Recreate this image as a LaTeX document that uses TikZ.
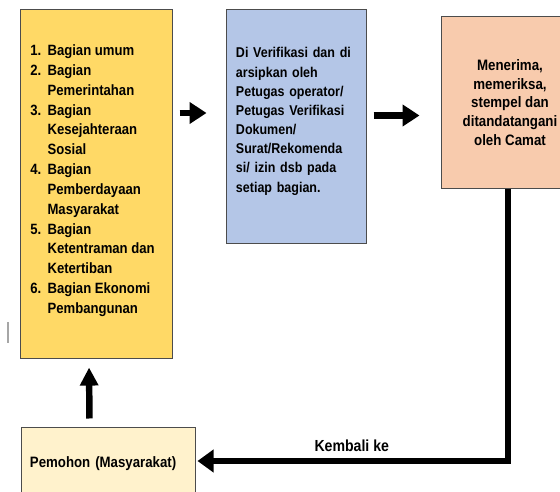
\documentclass[tikz,border=0pt]{standalone}
\usepackage{fontspec}
\setmainfont{Liberation Sans}[FakeStretch=0.88]
\usetikzlibrary{positioning,arrows.meta,calc}
\definecolor{bagianyellow}{HTML}{FFD966}
\definecolor{verifblue}{HTML}{B4C6E7}
\definecolor{camatpeach}{HTML}{F8CBAD}
\definecolor{pemohonyellow}{HTML}{FFF2CC}
\tikzset{
  flowarrow/.style={-{Triangle[length=4.2mm,width=5.2mm]}, line width=4.6pt},
  stepbox/.style={draw=black!70, line width=0.7pt, inner sep=0pt},
  bagiannode/.style={stepbox, fill=bagianyellow, minimum width=3.775cm, minimum height=8.7cm, font=\bfseries\fontsize{10.6}{14.1}\selectfont},
  verifnode/.style={stepbox, fill=verifblue, inner xsep=2.25mm, text width=3.025cm, minimum height=5.825cm, text depth=105pt, align=left, font=\bfseries\fontsize{10.1}{13.65}\selectfont},
  camatnode/.style={stepbox, fill=camatpeach, minimum width=3.4cm, minimum height=4.275cm, align=center, font=\bfseries\fontsize{10.75}{13.3}\selectfont},
  pemohonnode/.style={stepbox, fill=pemohonyellow, inner xsep=2mm, text width=3.925cm, minimum height=1.8cm, align=left, font=\bfseries\fontsize{10.7}{13}\selectfont},
  relabel/.style={font=\bfseries\fontsize{11.4}{13}\selectfont}
}
\begin{document}
\begin{tikzpicture}[x=0.025cm, y=-0.025cm]
  \useasboundingbox (0,0) rectangle (560,492);
  \node[bagiannode] (bagian) at (96.5,184) {%
    \begin{tabular}{@{}l@{\hspace{4.5pt}}l@{\hspace{5.7pt}}}
      1. & Bagian umum\\
      2. & Bagian\\
         & Pemerintahan\\
      3. & Bagian\\
         & Kesejahteraan\\
         & Sosial\\
      4. & Bagian\\
         & Pemberdayaan\\
         & Masyarakat\\
      5. & Bagian\\
         & Ketentraman dan\\
         & Ketertiban\\
      6. & Bagian Ekonomi\\
         & Pembangunan\\[5pt]
    \end{tabular}};
  \node[verifnode] (verif) at (296.5,126.5) {Di Verifikasi dan di\\arsipkan oleh\\Petugas operator/\\Petugas Verifikasi\\Dokumen/\\Surat/Rekomenda\\si/ izin dsb pada\\setiap bagian.};
  \node[camatnode] (camat) at (510,102.5) {Menerima,\\memeriksa,\\stempel dan\\ditandatangani\\oleh Camat};
  \node[pemohonnode] (pemohon) at (108.5,464) {Pemohon (Masyarakat)};
  \draw[gray!70, line width=1.2pt] (8,322) -- (8,343);
  \draw[flowarrow, shorten <=1.75mm, shorten >=5mm] (bagian.east |- 0,113) -- (verif.west |- 0,113);
  \draw[flowarrow, shorten <=1.75mm, shorten >=5.5mm] (verif.east |- 0,115.5) -- (camat.west |- 0,115.5);
  \draw[flowarrow, -{Triangle[length=4mm,width=5.5mm]}, shorten >=0.5mm] ([xshift=-0.5mm]camat.south) |- ([yshift=0.75mm]pemohon.east)
    node[relabel, pos=0.75, above=1.2pt] {Kembali ke};
  \draw[flowarrow, -{Triangle[length=4.5mm,width=4.4mm]}, shorten <=2.25mm, shorten >=2.25mm] ([xshift=-4.75mm]pemohon.north) -- ([xshift=-1.875mm]bagian.south);
\end{tikzpicture}
\end{document}
